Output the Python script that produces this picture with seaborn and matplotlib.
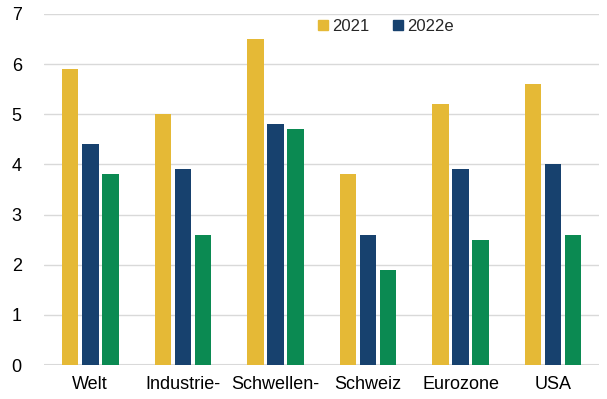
import matplotlib
matplotlib.use("Agg")
import matplotlib.pyplot as plt
import seaborn as sns
import pandas as pd
from matplotlib.patches import Patch

categories = ["Welt", "Industrie-", "Schwellen-", "Schweiz", "Eurozone", "USA"]
series_names = ["2021", "2022e", "2023e"]
values_2021 = [5.9, 5.0, 6.5, 3.8, 5.2, 5.6]
values_2022e = [4.4, 3.9, 4.8, 2.6, 3.9, 4.0]
values_2023e = [3.8, 2.6, 4.7, 1.9, 2.5, 2.6]
colors = ["#E5B936", "#17416E", "#0B8A52"]

rows = []
for name, vals in zip(series_names, [values_2021, values_2022e, values_2023e]):
    for c, v in zip(categories, vals):
        rows.append({"cat": c, "series": name, "value": v})
df = pd.DataFrame(rows)

sns.set_style("white")
plt.rcParams['font.family'] = ['Liberation Sans', 'DejaVu Sans']

fig = plt.figure(figsize=(6.07, 3.99), dpi=100)
ax = fig.add_axes([0.0725, 0.085, 0.915, 0.88])
sns.barplot(data=df, x="cat", y="value", hue="series", palette=colors,
            width=0.65, gap=0.18, ax=ax, legend=False, saturation=1,
            linewidth=0, edgecolor="none")

ax.set_ylim(0, 7)
ax.set_xlim(-0.5, 5.5)
ax.set_yticks(range(0, 8))
ax.yaxis.grid(True, color="#D9D9D9", linewidth=1)
ax.set_axisbelow(True)
for s in ["top", "right", "left", "bottom"]:
    ax.spines[s].set_visible(False)
ax.axhline(0, color="#D9D9D9", linewidth=1.5, zorder=0)
ax.set_xlabel("")
ax.set_ylabel("")
ax.tick_params(axis="both", length=0, labelsize=13, colors="black")
ax.tick_params(axis="y", pad=16)
ax.tick_params(axis="x", pad=8)

handles = [Patch(color=colors[0], label=series_names[0]),
           Patch(color=colors[1], label=series_names[1])]
ax.legend(handles=handles, loc="center", bbox_to_anchor=(0.615, 0.965),
          ncol=2, frameon=False, fontsize=12, handlelength=0.6, handleheight=0.6,
          handletextpad=0.25, columnspacing=1.4, borderpad=0)

fig.savefig("out.png", dpi=100)
